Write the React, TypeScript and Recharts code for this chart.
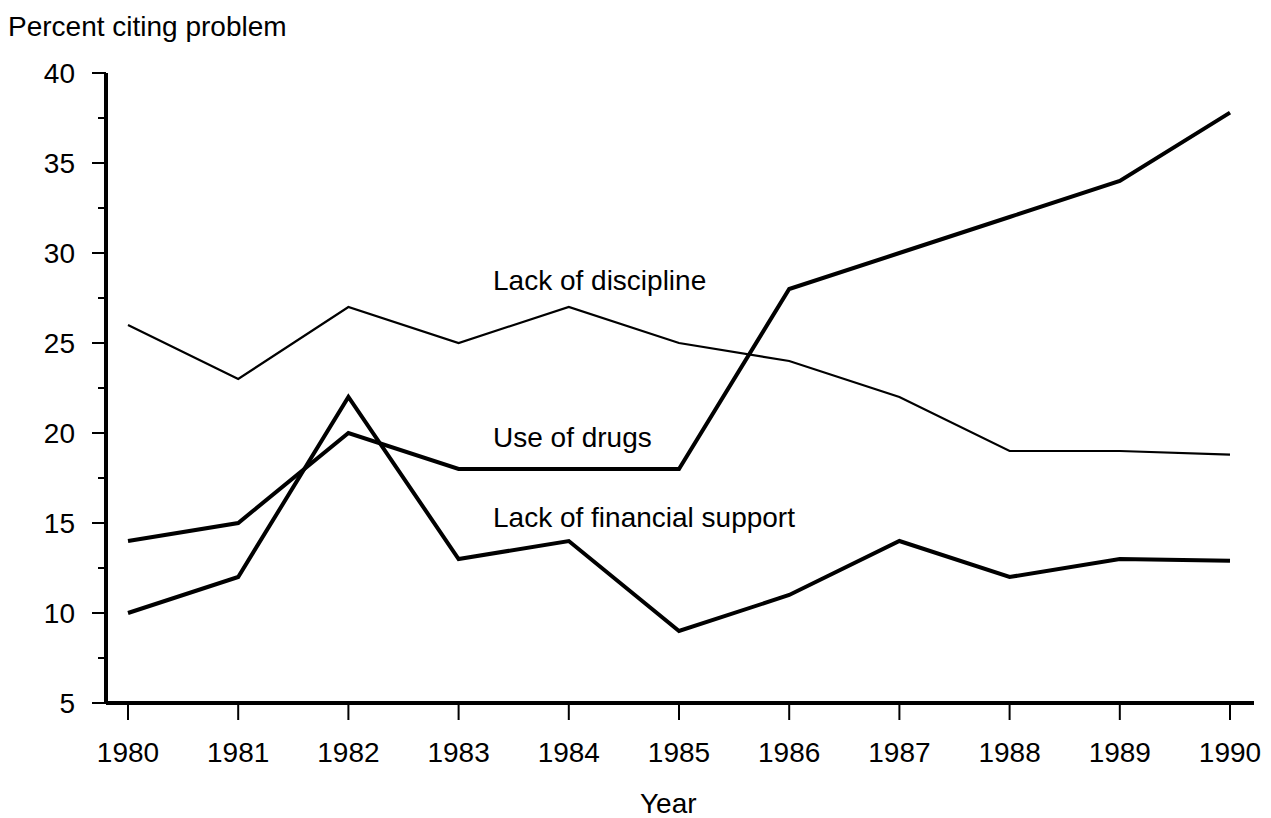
import React from 'react';
import { LineChart, Line, XAxis, YAxis } from 'recharts';

const years = [1980, 1981, 1982, 1983, 1984, 1985, 1986, 1987, 1988, 1989, 1990];
const discipline = [26, 23, 27, 25, 27, 25, 24, 22, 19, 19, 18.8];
const drugs = [14, 15, 20, 18, 18, 18, 28, 30, 32, 34, 37.8];
const financial = [10, 12, 22, 13, 14, 9, 11, 14, 12, 13, 12.9];
const yTicks = [5, 7.5, 10, 12.5, 15, 17.5, 20, 22.5, 25, 27.5, 30, 32.5, 35, 37.5, 40];

const data = years.map((y, i) => ({
  year: y,
  discipline: discipline[i],
  drugs: drugs[i],
  financial: financial[i],
}));

const FONT = '"Liberation Sans", Arial, Helvetica, sans-serif';

const YTick = (props: any) => {
  const { x, y, payload } = props;
  const v = payload.value;
  const major = v % 5 === 0;
  return (
    <g>
      <line x1={x - (major ? 14 : 8)} x2={x} y1={y} y2={y} stroke="#000" strokeWidth={2} />
      {major && (
        <text x={x - 31} y={y + 10} textAnchor="end" fontFamily={FONT} fontSize={28} fill="#000">
          {v}
        </text>
      )}
    </g>
  );
};

const XTick = (props: any) => {
  const { x, y, payload } = props;
  return (
    <g>
      <line x1={x} x2={x} y1={y} y2={y + 17} stroke="#000" strokeWidth={2} />
      <text x={x} y={y + 59} textAnchor="middle" fontFamily={FONT} fontSize={28} fill="#000">
        {payload.value}
      </text>
    </g>
  );
};

const textStyle = (left: number, centerY: number, size: number): React.CSSProperties => ({
  position: 'absolute',
  left,
  top: centerY - size / 2,
  fontSize: size,
  lineHeight: `${size}px`,
  fontFamily: FONT,
  color: '#000',
  whiteSpace: 'nowrap',
});

export default function App() {
  return (
    <div style={{ position: 'absolute', left: 0, top: 0, width: 1271, height: 818, background: '#fff' }}>
      <LineChart
        width={1271}
        height={818}
        data={data}
        margin={{ top: 73, right: 17, bottom: 45, left: 26 }}
      >
        <XAxis
          dataKey="year"
          type="number"
          domain={[1980, 1990]}
          ticks={years}
          padding={{ left: 22, right: 24 }}
          height={70}
          axisLine={{ stroke: '#000', strokeWidth: 4 }}
          tickLine={false}
          tickSize={0}
          tickMargin={0}
          tick={<XTick />}
          interval={0}
        />
        <YAxis
          type="number"
          domain={[5, 40]}
          ticks={yTicks}
          width={80}
          axisLine={{ stroke: '#000', strokeWidth: 4 }}
          tickLine={false}
          tickSize={0}
          tickMargin={0}
          tick={<YTick />}
          interval={0}
        />
        <Line type="linear" dataKey="discipline" stroke="#000" strokeWidth={2.2} dot={false} isAnimationActive={false} />
        <Line type="linear" dataKey="drugs" stroke="#000" strokeWidth={4} dot={false} isAnimationActive={false} />
        <Line type="linear" dataKey="financial" stroke="#000" strokeWidth={4} dot={false} isAnimationActive={false} />
      </LineChart>
      <div style={textStyle(8, 27, 28)}>Percent citing problem</div>
      <div style={textStyle(493, 281, 28)}>Lack of discipline</div>
      <div style={textStyle(493, 438, 28)}>Use of drugs</div>
      <div style={textStyle(493, 518, 28)}>Lack of financial support</div>
      <div style={textStyle(640, 804, 28)}>Year</div>
    </div>
  );
}
